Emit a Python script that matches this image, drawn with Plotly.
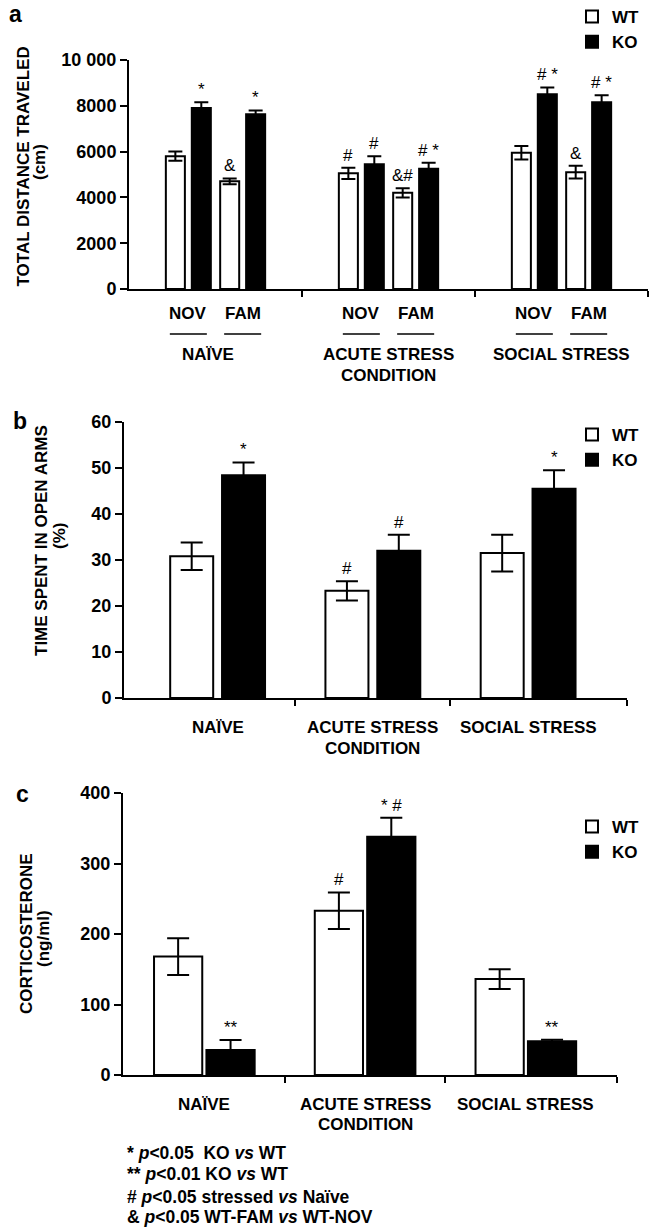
import plotly.graph_objects as go

W, H = 652, 1227
FONT = "Liberation Sans"

# ---------------- data ----------------
conditions = ["NAÏVE", "ACUTE STRESS", "SOCIAL STRESS"]
tests = ["NOV", "FAM"]

# Panel a: total distance travelled (cm); order = condition x test (NOV, FAM)
a_wt = [5800, 4700, 5050, 4200, 5950, 5100]
a_wt_err = [200, 130, 250, 200, 300, 280]
a_ko = [7900, 7630, 5450, 5250, 8500, 8150]
a_ko_err = [250, 170, 350, 260, 300, 310]
a_wt_sig = ["", "&amp;", "#", "&amp;#", "", "&amp;"]
a_ko_sig = ["*", "*", "#", "# *", "# *", "# *"]
a_ticks = [0, 2000, 4000, 6000, 8000, 10000]
a_ticktext = ["0", "2000", "4000", "6000", "8000", "10 000"]

# Panel b: time spent in open arms (%)
b_wt = [30.8, 23.3, 31.5]
b_wt_err = [3.0, 2.1, 4.0]
b_ko = [48.4, 32.0, 45.5]
b_ko_err = [2.8, 3.5, 4.0]
b_wt_sig = ["", "#", ""]
b_ko_sig = ["*", "#", "*"]
b_ticks = [0, 10, 20, 30, 40, 50, 60]

# Panel c: corticosterone (ng/ml)
c_wt = [168, 233, 136]
c_wt_err = [26, 26, 14]
c_ko = [35.5, 338, 48]
c_ko_err = [14, 27, 2]
c_wt_sig = ["", "#", ""]
c_ko_sig = ["**", "* #", "**"]
c_ticks = [0, 100, 200, 300, 400]

footnotes = [
    "* <i>p</i>&lt;0.05  KO <i>vs</i> WT",
    "** <i>p</i>&lt;0.01 KO <i>vs</i> WT",
    "# <i>p</i>&lt;0.05 stressed <i>vs</i> Naïve",
    "&amp; <i>p</i>&lt;0.05 WT-FAM <i>vs</i> WT-NOV",
]


def px(x):
    return x / W


def py(y):
    return 1 - y / H


fig = go.Figure()
annotations = []
shapes = []

WT_STYLE = dict(color="white", line=dict(color="black", width=2))
KO_STYLE = dict(color="black", line=dict(color="black", width=2))


def add_pair(xs_wt, xs_ko, wt, wte, ko, koe, bw, cap, xa, ya, legend, wts, kos):
    fig.add_trace(go.Bar(x=xs_wt, y=wt, width=bw, marker=WT_STYLE, name="WT",
                         error_y=dict(type="data", array=wte, color="black", thickness=2, width=cap),
                         xaxis=xa, yaxis=ya, legend=legend))
    fig.add_trace(go.Bar(x=xs_ko, y=ko, width=bw, marker=KO_STYLE, name="KO",
                         error_y=dict(type="data", array=koe, color="black", thickness=2, width=cap),
                         xaxis=xa, yaxis=ya, legend=legend))
    for xs, vals, errs, sigs in ((xs_wt, wt, wte, wts), (xs_ko, ko, koe, kos)):
        for x, v, e, s in zip(xs, vals, errs, sigs):
            if s:
                annotations.append(dict(x=x, y=v + e, xref=xa, yref=ya, text=s, showarrow=False,
                                        yanchor="bottom", yshift=1,
                                        font=dict(family=FONT, size=17, color="black")))


# ---- panel a ----
TEST_OFF = 0.157
GEN_OFF_A = 0.075
a_base = [ci + (-TEST_OFF if ti == 0 else TEST_OFF) for ci in range(len(conditions)) for ti in range(len(tests))]
add_pair([b - GEN_OFF_A for b in a_base], [b + GEN_OFF_A for b in a_base],
         a_wt, a_wt_err, a_ko, a_ko_err, 0.11, 7, "x", "y", "legend", a_wt_sig, a_ko_sig)

# ---- panel b ----
GEN_OFF_B = 0.167
b_base = list(range(len(conditions)))
add_pair([b - GEN_OFF_B for b in b_base], [b + GEN_OFF_B for b in b_base],
         b_wt, b_wt_err, b_ko, b_ko_err, 0.277, 11, "x2", "y2", "legend2", b_wt_sig, b_ko_sig)

# ---- panel c ----
GEN_OFF_C = 0.163
c_base = list(range(len(conditions)))
add_pair([b - GEN_OFF_C for b in c_base], [b + GEN_OFF_C for b in c_base],
         c_wt, c_wt_err, c_ko, c_ko_err, 0.30, 11, "x3", "y3", "legend3", c_wt_sig, c_ko_sig)

AX_FONT = dict(family=FONT, size=18, color="black", weight="bold")


def xaxis(domain, rng, anchor):
    return dict(domain=domain, range=rng, anchor=anchor, showline=True, linecolor="black", linewidth=2,
                ticks="outside", ticklen=6, tickwidth=2, tickcolor="black",
                tickvals=[0.5, 1.5, rng[1]], showticklabels=False, showgrid=False, zeroline=False,
                fixedrange=True)


def yaxis(domain, rng, anchor, tickvals, ticktext=None):
    d = dict(domain=domain, range=rng, anchor=anchor, showline=True, linecolor="black", linewidth=2,
             ticks="outside", ticklen=7, tickwidth=2, tickcolor="black", tickvals=tickvals,
             tickfont=AX_FONT, showgrid=False, zeroline=False, fixedrange=True)
    if ticktext:
        d["ticktext"] = ticktext
    return d


LEG = dict(font=dict(family=FONT, size=17, color="black", weight="bold"), bgcolor="rgba(0,0,0,0)",
           xanchor="left", yanchor="top", itemwidth=30, tracegroupgap=0)

fig.update_layout(
    width=W, height=H, margin=dict(l=0, r=0, t=0, b=0, autoexpand=False),
    paper_bgcolor="white", plot_bgcolor="white",
    barmode="overlay",
    font=dict(family=FONT, color="black"),
    xaxis=xaxis([px(129), px(648)], [-0.5, 2.5], "y"),
    yaxis=yaxis([py(289), py(60)], [0, 10000], "x", a_ticks, a_ticktext),
    xaxis2=xaxis([px(124), px(627)], [-0.603, 2.637], "y2"),
    yaxis2=yaxis([py(698), py(422)], [0, 60], "x2", b_ticks),
    xaxis3=xaxis([px(123), px(617)], [-0.506, 2.567], "y3"),
    yaxis3=yaxis([py(1075), py(793)], [0, 400], "x3", c_ticks),
    legend=dict(LEG, x=px(572), y=py(-1)),
    legend2=dict(LEG, x=px(572), y=py(417)),
    legend3=dict(LEG, x=px(572), y=py(809)),
)

LBL_SIZE = 17


def label(x, xref, y, text, size=LBL_SIZE, xanchor="center", xshift=0):
    annotations.append(dict(x=x, y=py(y), xref=xref, yref="paper", text="<b>%s</b>" % text,
                            showarrow=False, xanchor=xanchor, yanchor="middle", xshift=xshift,
                            font=dict(family=FONT, size=size, color="black")))


# panel a x labels
for ci, cond in enumerate(conditions):
    for ti, t in enumerate(tests):
        xc = ci + (-TEST_OFF if ti == 0 else TEST_OFF)
        label(xc, "x", 313, t)
        shapes.append(dict(type="line", xref="x", yref="paper", x0=xc - 0.107, x1=xc + 0.107,
                           y0=py(334), y1=py(334), line=dict(color="black", width=1.5)))
    label(ci, "x", 354, cond, xshift=-8 if ci == 0 else 0)
label(1, "x", 375, "CONDITION")

for ci, cond in enumerate(conditions):
    label(ci, "x2", 727, cond)
label(1, "x2", 748, "CONDITION")

for ci, cond in enumerate(conditions):
    label(ci, "x3", 1104, cond)
label(1, "x3", 1124, "CONDITION")

# y titles (two lines each, placed as separate rotated text lines)
for xc, yc, text in ((22.5, 167, "TOTAL DISTANCE TRAVELED"), (39, 162, "(cm)"),
                     (41, 541, "TIME SPENT IN OPEN ARMS"), (59, 536, "(%)"),
                     (26, 934, "CORTICOSTERONE"), (43, 938, "(ng/ml)")):
    annotations.append(dict(x=px(xc), y=py(yc), xref="paper", yref="paper",
                            text="<b>%s</b>" % text,
                            textangle=-90, showarrow=False, xanchor="center", yanchor="middle",
                            font=dict(family=FONT, size=17, color="black")))

# panel letters
for xc, yc, t in ((15, 14, "a"), (20, 421, "b"), (22, 794, "c")):
    annotations.append(dict(x=px(xc), y=py(yc), xref="paper", yref="paper", text="<b>%s</b>" % t,
                            showarrow=False, xanchor="center", yanchor="middle",
                            font=dict(family=FONT, size=23, color="black")))

# footnotes
for t, yc in zip(footnotes, [1153, 1174, 1197, 1217]):
    label(px(125), "paper", yc, t, size=17.5, xanchor="left")

fig.update_layout(annotations=annotations, shapes=shapes)
fig.write_html("out.html")
